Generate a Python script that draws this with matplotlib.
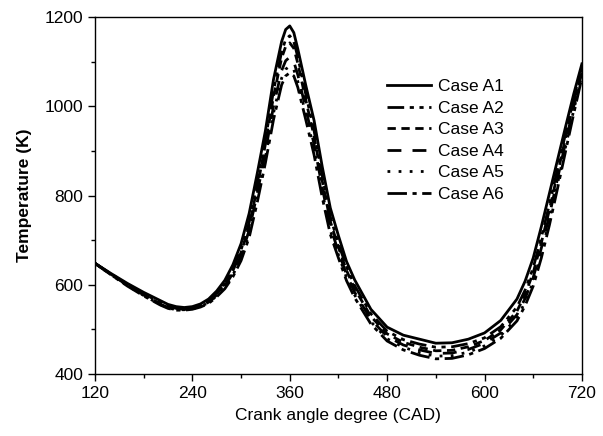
import numpy as np
import matplotlib.pyplot as plt
from matplotlib.ticker import MultipleLocator

plt.rcParams['font.family'] = ['Liberation Sans', 'DejaVu Sans']

# crank angle grid (CAD)
cad = [120, 140, 160, 180, 200, 210, 220, 230, 240, 250, 260, 270, 280, 290,
       300, 310, 320, 330, 340, 350, 355, 360, 365, 370, 380, 390, 400, 410,
       420, 430, 440, 460, 480, 500, 520, 540, 560, 580, 600, 620, 640, 650, 660,
       670, 680, 690, 700, 710, 720]

case_a1 = [648, 625, 603, 583, 565, 556, 551, 549, 551, 557, 568, 586, 610, 645,
           692, 760, 850, 945, 1060, 1145, 1172, 1180, 1165, 1128, 1045, 968, 865, 772,
           710, 652, 611, 545, 505, 487, 478, 469, 470, 478, 492, 520, 568, 608, 660,
           730, 805, 880, 955, 1028, 1095]
case_a2 = [648, 624, 601, 580, 561, 552, 547, 546, 548, 554, 565, 582, 604, 636,
           678, 740, 828, 925, 1035, 1122, 1150, 1158, 1145, 1110, 1025, 945, 845, 752,
           692, 640, 598, 535, 496, 477, 467, 460, 461, 468, 481, 506, 550, 588, 638,
           706, 780, 860, 940, 1018, 1088]
case_a3 = [648, 623, 600, 578, 558, 550, 546, 545, 547, 553, 563, 580, 601, 632,
           672, 732, 818, 915, 1022, 1108, 1134, 1142, 1130, 1096, 1012, 933, 833, 742,
           684, 632, 591, 529, 490, 471, 460, 452, 453, 461, 475, 499, 541, 578, 627,
           694, 768, 849, 930, 1010, 1082]
case_a4 = [648, 623, 599, 577, 557, 549, 545, 545, 547, 552, 561, 577, 597, 626,
           665, 722, 805, 898, 1000, 1080, 1102, 1110, 1100, 1070, 992, 915, 818, 730,
           674, 623, 583, 522, 484, 465, 454, 446, 447, 455, 469, 492, 533, 569, 616,
           682, 756, 838, 920, 1000, 1076]
case_a5 = [648, 622, 598, 576, 556, 548, 544, 544, 546, 551, 560, 575, 594, 622,
           660, 714, 795, 885, 985, 1063, 1083, 1090, 1082, 1055, 980, 903, 808, 722,
           667, 616, 577, 517, 479, 460, 448, 440, 441, 449, 463, 486, 526, 561, 606,
           671, 745, 827, 910, 992, 1070]
case_a6 = [648, 622, 597, 575, 555, 547, 543, 543, 545, 550, 558, 573, 591, 618,
           654, 706, 785, 873, 970, 1048, 1068, 1075, 1068, 1042, 968, 891, 796, 713,
           660, 609, 571, 512, 474, 454, 442, 434, 435, 443, 457, 480, 519, 553, 597,
           660, 734, 816, 900, 984, 1064]

labels = ['Case A1', 'Case A2', 'Case A3', 'Case A4', 'Case A5', 'Case A6']
series = [case_a1, case_a2, case_a3, case_a4, case_a5, case_a6]
styles = ['-', (0, (6, 2, 1.5, 2, 1.5, 2)), (0, (3, 2)), (0, (5, 4)),
          (0, (1, 3)), (0, (7, 2, 1.5, 2))]

fig = plt.figure(figsize=(6.03, 4.36), dpi=100)
ax = fig.add_axes([0.1575, 0.1422, 0.8075, 0.8188])

for y, lab, ls in zip(series, labels, styles):
    ax.plot(cad, y, color='black', lw=2.0, ls=ls, label=lab)

ax.set_xlim(120, 720)
ax.set_ylim(400, 1200)
ax.xaxis.set_major_locator(MultipleLocator(120))
ax.xaxis.set_minor_locator(MultipleLocator(60))
ax.yaxis.set_major_locator(MultipleLocator(200))
ax.yaxis.set_minor_locator(MultipleLocator(100))
ax.tick_params(which='both', direction='out', labelsize=12.5, top=False, right=False)
ax.tick_params(which='major', length=5, width=1)
ax.tick_params(which='minor', length=3, width=1)
for s in ax.spines.values():
    s.set_linewidth(1.0)

ax.set_xlabel('Crank angle degree (CAD)', fontsize=12.5, labelpad=5)
ax.set_ylabel('Temperature (K)', fontsize=12.5, fontweight='bold', labelpad=9)

ax.legend(loc='upper left', bbox_to_anchor=(0.586, 0.846), frameon=False,
          fontsize=12.5, handlelength=2.5, labelspacing=0.37, handletextpad=0.45,
          borderaxespad=0)

fig.savefig('out.png', dpi=100)
